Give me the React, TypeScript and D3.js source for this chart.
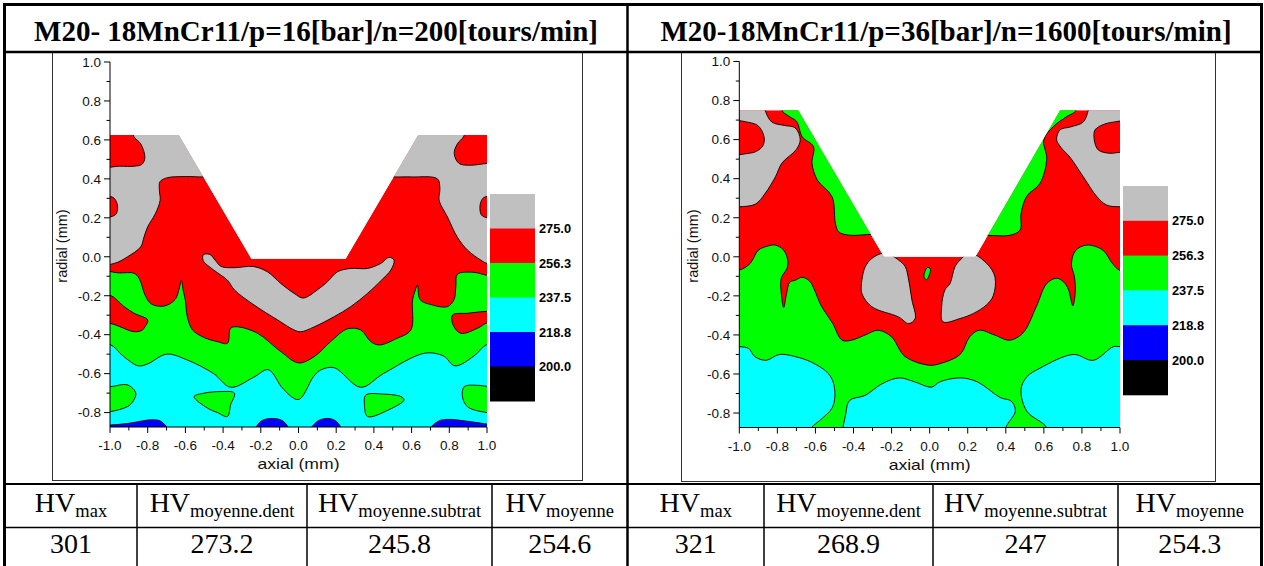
import React from "react";
import * as d3 from "d3";

type P = [number, number];

// ---------------- data ----------------
const contourLevels = [200.0, 218.8, 237.5, 256.3, 275.0];
const bandColors = ["#000000", "#0000ff", "#00ffff", "#00ff00", "#ff0000", "#c0c0c0"];
const panelTitles = [
  "M20- 18MnCr11/p=16[bar]/n=200[tours/min]",
  "M20-18MnCr11/p=36[bar]/n=1600[tours/min]",
];
const hvSubscripts = ["max", "moyenne.dent", "moyenne.subtrat", "moyenne"];
const hvValuesLeft = ["301", "273.2", "245.8", "254.6"];
const hvValuesRight = ["321", "268.9", "247", "254.3"];
const xMajorTicks = [-1.0, -0.8, -0.6, -0.4, -0.2, 0.0, 0.2, 0.4, 0.6, 0.8, 1.0];
const xMinorTicks = [-0.9, -0.7, -0.5, -0.3, -0.1, 0.1, 0.3, 0.5, 0.7, 0.9];
const yMajorTicks = [-0.8, -0.6, -0.4, -0.2, 0.0, 0.2, 0.4, 0.6, 0.8, 1.0];
const yMinorTicks = [-0.7, -0.5, -0.3, -0.1, 0.1, 0.3, 0.5, 0.7, 0.9];
const yMin = -0.874;

// hardness representative of each band (HV)
const HV_GRAY = 285, HV_RED = 266, HV_GREEN = 247, HV_CYAN = 228, HV_BLUE = 210;

// ---- left panel (p=16 bar, n=200) ----
const leftTooth: P[] = [[-1, 0.625], [-0.635, 0.625], [-0.25, -0.01], [0.25, -0.01], [0.635, 0.625], [1, 0.625], [1, yMin], [-1, yMin]];
const leftGrayTL: P[] = [[-1.1, 0.7], [-0.45, 0.7], [-0.45, 0.415], [-0.5, 0.41], [-0.6, 0.412], [-0.7, 0.405], [-0.735, 0.385], [-0.738, 0.34], [-0.734, 0.29], [-0.76, 0.22], [-0.8, 0.154], [-0.82, 0.1], [-0.837, 0.051], [-0.907, 0.0], [-0.978, -0.034], [-1.1, -0.036]];
const leftRedTL: P[] = [[-1.1, 0.7], [-0.88, 0.7], [-0.875, 0.62], [-0.837, 0.58], [-0.815, 0.51], [-0.83, 0.475], [-0.872, 0.465], [-0.95, 0.465], [-1.1, 0.465]];
const leftRedL2: P[] = [[-1.1, 0.31], [-0.985, 0.305], [-0.965, 0.28], [-0.96, 0.24], [-0.975, 0.213], [-1.1, 0.205]];
const leftGrayTR: P[] = [[1.1, 0.7], [0.45, 0.7], [0.45, 0.415], [0.512, 0.41], [0.6, 0.41], [0.737, 0.4], [0.75, 0.35], [0.746, 0.29], [0.79, 0.205], [0.843, 0.1], [0.897, 0.034], [0.967, -0.017], [1.0, -0.034], [1.1, -0.036]];
const leftRedTR: P[] = [[0.89, 0.7], [0.878, 0.62], [0.843, 0.58], [0.826, 0.53], [0.852, 0.479], [0.914, 0.47], [1.0, 0.479], [1.1, 0.48], [1.1, 0.7]];
const leftRedR2: P[] = [[1.1, 0.31], [0.985, 0.305], [0.967, 0.28], [0.963, 0.24], [0.975, 0.21], [1.1, 0.2]];
const leftGrayV: P[] = [[-0.505, 0.01], [-0.47, 0.012], [-0.44, -0.02], [-0.41, -0.05], [-0.34, -0.056], [-0.24, -0.05], [-0.165, -0.077], [-0.094, -0.137], [-0.023, -0.188], [0.025, -0.212], [0.1, -0.17], [0.154, -0.128], [0.207, -0.077], [0.277, -0.06], [0.366, -0.06], [0.437, -0.034], [0.48, -0.003], [0.507, -0.017], [0.49, -0.068], [0.44, -0.12], [0.366, -0.188], [0.277, -0.256], [0.19, -0.307], [0.083, -0.36], [0.012, -0.385], [-0.023, -0.376], [-0.11, -0.325], [-0.235, -0.248], [-0.34, -0.17], [-0.377, -0.12], [-0.45, -0.068], [-0.505, -0.02]];
const leftGreen: P[] = [[-1.1, -0.085], [-0.95, -0.083], [-0.872, -0.085], [-0.846, -0.11], [-0.83, -0.15], [-0.815, -0.195], [-0.78, -0.243], [-0.713, -0.253], [-0.655, -0.22], [-0.632, -0.16], [-0.622, -0.12], [-0.612, -0.17], [-0.6, -0.225], [-0.59, -0.307], [-0.562, -0.376], [-0.5, -0.415], [-0.43, -0.436], [-0.377, -0.444], [-0.36, -0.367], [-0.32, -0.36], [-0.217, -0.393], [-0.094, -0.487], [0.0, -0.545], [0.083, -0.513], [0.17, -0.436], [0.26, -0.37], [0.33, -0.376], [0.384, -0.436], [0.428, -0.453], [0.52, -0.42], [0.596, -0.376], [0.605, -0.222], [0.62, -0.17], [0.631, -0.145], [0.645, -0.22], [0.7, -0.245], [0.79, -0.256], [0.825, -0.22], [0.835, -0.15], [0.843, -0.09], [0.93, -0.08], [1.0, -0.095], [1.1, -0.1], [1.1, -1.0], [-1.1, -1.0]];
const leftRedTongueL: P[] = [[-1.1, -0.196], [-1.0, -0.197], [-0.925, -0.256], [-0.872, -0.29], [-0.8, -0.325], [-0.815, -0.36], [-0.828, -0.376], [-0.87, -0.385], [-1.0, -0.342], [-1.1, -0.34]];
const leftRedTongueR: P[] = [[1.1, -0.28], [1.0, -0.28], [0.897, -0.29], [0.817, -0.299], [0.82, -0.35], [0.861, -0.393], [0.95, -0.367], [1.0, -0.34], [1.1, -0.34]];
const leftCyan: P[] = [[-1.1, -0.45], [-1.0, -0.45], [-0.93, -0.51], [-0.85, -0.56], [-0.8, -0.55], [-0.7, -0.5], [-0.59, -0.53], [-0.45, -0.6], [-0.36, -0.67], [-0.24, -0.62], [-0.16, -0.58], [-0.08, -0.68], [0.0, -0.733], [0.08, -0.615], [0.12, -0.58], [0.19, -0.57], [0.33, -0.67], [0.45, -0.6], [0.67, -0.495], [0.77, -0.51], [0.83, -0.56], [0.93, -0.51], [1.0, -0.45], [1.1, -0.44], [1.1, -1.0], [-1.1, -1.0]];
const leftGreenIsl1: P[] = [[-1.1, -0.667], [-1.0, -0.667], [-0.907, -0.658], [-0.863, -0.7], [-0.88, -0.745], [-0.907, -0.769], [-1.0, -0.795], [-1.1, -0.795]];
const leftGreenIsl2: P[] = [[-0.554, -0.718], [-0.5, -0.7], [-0.412, -0.692], [-0.34, -0.7], [-0.36, -0.76], [-0.377, -0.82], [-0.43, -0.8], [-0.483, -0.777]];
const leftGreenIsl3: P[] = [[0.357, -0.71], [0.45, -0.705], [0.543, -0.718], [0.56, -0.735], [0.48, -0.785], [0.366, -0.82], [0.35, -0.76]];
const leftGreenIsl4: P[] = [[0.879, -0.667], [0.95, -0.66], [1.0, -0.665], [1.1, -0.665], [1.1, -0.8], [1.0, -0.8], [0.897, -0.77], [0.87, -0.72]];
const leftBlue1: P[] = [[-1.1, -0.866], [-1.0, -0.864], [-0.9, -0.855], [-0.78, -0.837], [-0.73, -0.845], [-0.69, -0.9], [-1.1, -0.92]];
const leftBlue2: P[] = [[-0.23, -0.9], [-0.2, -0.845], [-0.14, -0.83], [-0.08, -0.845], [-0.05, -0.9]];
const leftBlue3: P[] = [[0.06, -0.9], [0.1, -0.845], [0.154, -0.83], [0.2, -0.845], [0.23, -0.9]];
const leftBlue4: P[] = [[0.69, -0.9], [0.74, -0.845], [0.79, -0.835], [0.9, -0.845], [0.985, -0.857], [1.1, -0.87], [1.1, -0.92]];

// ---- right panel (p=36 bar, n=1600) ----
const rightTooth: P[] = [[-1, 0.75], [-0.69, 0.75], [-0.24, 0.0], [0.24, 0.0], [0.685, 0.75], [1, 0.75], [1, yMin], [-1, yMin]];
const rightGrayTL: P[] = [[-1.1, 0.8], [-0.87, 0.8], [-0.864, 0.75], [-0.829, 0.69], [-0.76, 0.672], [-0.706, 0.66], [-0.68, 0.6], [-0.7, 0.55], [-0.776, 0.48], [-0.81, 0.41], [-0.864, 0.325], [-0.915, 0.27], [-1.0, 0.256], [-1.1, 0.255]];
const rightRedTL: P[] = [[-1.1, 0.692], [-0.95, 0.688], [-0.9, 0.67], [-0.87, 0.615], [-0.875, 0.57], [-0.91, 0.54], [-0.95, 0.53], [-1.1, 0.53]];
const rightGreenSlopeL: P[] = [[-0.776, 0.9], [-0.776, 0.75], [-0.74, 0.72], [-0.698, 0.692], [-0.67, 0.615], [-0.61, 0.564], [-0.618, 0.479], [-0.59, 0.393], [-0.513, 0.308], [-0.495, 0.171], [-0.478, 0.128], [-0.426, 0.111], [-0.3, 0.115], [-0.2, 0.115], [-0.2, 0.9]];
const rightGrayTR: P[] = [[0.84, 0.8], [0.833, 0.75], [0.807, 0.69], [0.74, 0.665], [0.685, 0.65], [0.667, 0.6], [0.69, 0.56], [0.737, 0.51], [0.807, 0.41], [0.877, 0.31], [0.93, 0.265], [1.0, 0.256], [1.1, 0.256], [1.1, 0.8]];
const rightRedTR: P[] = [[0.869, 0.65], [0.92, 0.68], [0.98, 0.692], [1.0, 0.695], [1.1, 0.7], [1.1, 0.535], [1.0, 0.535], [0.947, 0.53], [0.886, 0.547], [0.865, 0.598]];
const rightGreenSlopeR: P[] = [[0.2, 0.9], [0.2, 0.11], [0.3, 0.11], [0.42, 0.11], [0.475, 0.137], [0.48, 0.22], [0.51, 0.31], [0.58, 0.376], [0.615, 0.5], [0.6, 0.6], [0.65, 0.667], [0.72, 0.718], [0.77, 0.75], [0.775, 0.9]];
const rightGrayC1: P[] = [[-0.338, -0.051], [-0.303, -0.008], [-0.233, 0.02], [-0.163, -0.017], [-0.128, -0.051], [-0.11, -0.12], [-0.093, -0.222], [-0.076, -0.316], [-0.11, -0.342], [-0.163, -0.308], [-0.303, -0.256], [-0.356, -0.188], [-0.356, -0.12]];
const rightGrayC2: P[] = [[0.107, -0.137], [0.133, -0.051], [0.16, -0.017], [0.21, 0.02], [0.3, -0.034], [0.343, -0.103], [0.334, -0.2], [0.3, -0.245], [0.23, -0.29], [0.16, -0.316], [0.07, -0.333], [0.063, -0.256], [0.08, -0.17]];
const rightGreenSpeck: P[] = [[-0.03, -0.1], [-0.012, -0.055], [0.004, -0.062], [-0.016, -0.118]];
const rightGreen: P[] = [[-1.1, -0.068], [-1.0, -0.068], [-0.943, -0.034], [-0.9, 0.034], [-0.85, 0.055], [-0.811, 0.06], [-0.767, 0.034], [-0.745, -0.02], [-0.75, -0.06], [-0.78, -0.11], [-0.778, -0.2], [-0.767, -0.26], [-0.752, -0.19], [-0.735, -0.13], [-0.706, -0.12], [-0.67, -0.105], [-0.63, -0.125], [-0.605, -0.17], [-0.57, -0.25], [-0.51, -0.34], [-0.46, -0.427], [-0.41, -0.427], [-0.338, -0.4], [-0.27, -0.376], [-0.2, -0.41], [-0.13, -0.51], [-0.005, -0.555], [0.054, -0.547], [0.16, -0.5], [0.21, -0.41], [0.26, -0.376], [0.34, -0.4], [0.42, -0.427], [0.49, -0.39], [0.56, -0.256], [0.615, -0.137], [0.667, -0.11], [0.705, -0.13], [0.73, -0.17], [0.752, -0.25], [0.765, -0.18], [0.76, -0.1], [0.745, -0.04], [0.765, 0.03], [0.825, 0.06], [0.91, 0.034], [0.96, -0.034], [1.0, -0.07], [1.1, -0.07], [1.1, -1.0], [-1.1, -1.0]];
const rightCyanL: P[] = [[-1.1, -0.46], [-1.0, -0.46], [-0.95, -0.47], [-0.92, -0.51], [-0.86, -0.53], [-0.79, -0.5], [-0.71, -0.51], [-0.62, -0.54], [-0.53, -0.6], [-0.5, -0.67], [-0.51, -0.77], [-0.58, -0.84], [-0.62, -0.875], [-0.64, -0.95], [-1.1, -0.95]];
const rightCyanC: P[] = [[-0.44, -0.95], [-0.44, -0.8], [-0.42, -0.735], [-0.34, -0.71], [-0.25, -0.65], [-0.16, -0.62], [-0.08, -0.64], [0.01, -0.667], [0.054, -0.64], [0.16, -0.62], [0.25, -0.64], [0.37, -0.72], [0.43, -0.74], [0.45, -0.79], [0.4, -0.875], [0.39, -0.95]];
const rightCyanR: P[] = [[0.62, -0.95], [0.615, -0.875], [0.51, -0.79], [0.48, -0.68], [0.51, -0.615], [0.58, -0.57], [0.755, -0.5], [0.86, -0.53], [0.965, -0.46], [1.0, -0.46], [1.1, -0.46], [1.1, -0.95]];

type Layer = { v: number; pts: P[] };
const leftLayers: Layer[] = [
  { v: HV_GRAY, pts: leftGrayTL }, { v: HV_GRAY, pts: leftGrayTR }, { v: HV_GRAY, pts: leftGrayV },
  { v: HV_RED, pts: leftRedTL }, { v: HV_RED, pts: leftRedL2 }, { v: HV_RED, pts: leftRedTR }, { v: HV_RED, pts: leftRedR2 },
  { v: HV_GREEN, pts: leftGreen },
  { v: HV_RED, pts: leftRedTongueL }, { v: HV_RED, pts: leftRedTongueR },
  { v: HV_CYAN, pts: leftCyan },
  { v: HV_GREEN, pts: leftGreenIsl1 }, { v: HV_GREEN, pts: leftGreenIsl2 }, { v: HV_GREEN, pts: leftGreenIsl3 }, { v: HV_GREEN, pts: leftGreenIsl4 },
  { v: HV_BLUE, pts: leftBlue1 }, { v: HV_BLUE, pts: leftBlue2 }, { v: HV_BLUE, pts: leftBlue3 }, { v: HV_BLUE, pts: leftBlue4 },
];
const rightLayers: Layer[] = [
  { v: HV_GRAY, pts: rightGrayTL }, { v: HV_GRAY, pts: rightGrayTR }, { v: HV_GRAY, pts: rightGrayC1 }, { v: HV_GRAY, pts: rightGrayC2 },
  { v: HV_RED, pts: rightRedTL }, { v: HV_RED, pts: rightRedTR },
  { v: HV_GREEN, pts: rightGreenSlopeL }, { v: HV_GREEN, pts: rightGreenSlopeR }, { v: HV_GREEN, pts: rightGreenSpeck },
  { v: HV_GREEN, pts: rightGreen },
  { v: HV_CYAN, pts: rightCyanL }, { v: HV_CYAN, pts: rightCyanC }, { v: HV_CYAN, pts: rightCyanR },
];

// ---------------- drawing ----------------
const colorOf = d3.scaleThreshold<number, string>().domain(contourLevels).range(bandColors);
const SANS = "'Liberation Sans', Arial, sans-serif";
const SERIF = "'Liberation Serif', 'Times New Roman', serif";
const fmt = (v: number) => (Math.abs(v) < 1e-9 ? "0.0" : v.toFixed(1));

type Cfg = {
  id: string; x0: number; x1: number; yb: number; yt: number;
  frame: [number, number, number, number];
  cbX: number; cbTop: number; cbSeg: number; ylabX: number;
};

function Panel({ cfg, tooth, layers }: { cfg: Cfg; tooth: P[]; layers: Layer[] }) {
  const x = d3.scaleLinear().domain([-1, 1]).range([cfg.x0, cfg.x1]);
  const y = d3.scaleLinear().domain([yMin, 1]).range([cfg.yb, cfg.yt]);
  const smooth = d3.line<P>().x((d) => x(d[0])).y((d) => y(d[1])).curve(d3.curveCatmullRomClosed.alpha(0.5));
  const lin = d3.line<P>().x((d) => x(d[0])).y((d) => y(d[1])).curve(d3.curveLinearClosed);
  const [fx, fy, fw, fh] = cfg.frame;
  const cbColors = bandColors.slice().reverse();
  const cbLabels = contourLevels.slice().reverse();
  return (
    <g>
      <rect x={fx} y={fy} width={fw} height={fh} fill="#fff" stroke="#333" strokeWidth={1} />
      <defs>
        <clipPath id={cfg.id}>
          <path d={lin(tooth) || ""} />
        </clipPath>
      </defs>
      <g clipPath={`url(#${cfg.id})`}>
        <path d={lin(tooth) || ""} fill={colorOf(HV_RED)} />
        {layers.map((l, i) => (
          <path key={i} d={smooth(l.pts) || ""} fill={colorOf(l.v)} stroke="#000" strokeWidth={0.9} strokeLinejoin="round" />
        ))}
      </g>
      {/* axes */}
      <g fontFamily={SANS} fontSize={13.5} fill="#111">
        <line x1={x(-1)} x2={x(-1)} y1={y(1)} y2={y(yMin)} stroke="#000" strokeWidth={1} />
        <line x1={x(-1)} x2={x(1)} y1={y(yMin)} y2={y(yMin)} stroke="#000" strokeWidth={1} />
        {yMajorTicks.map((t) => (
          <g key={"ym" + t}>
            <line x1={x(-1) - 6} x2={x(-1)} y1={y(t)} y2={y(t)} stroke="#000" />
            <text x={x(-1) - 9} y={y(t) + 4.8} textAnchor="end">{fmt(t)}</text>
          </g>
        ))}
        {yMinorTicks.map((t) => (
          <line key={"yn" + t} x1={x(-1) - 3.5} x2={x(-1)} y1={y(t)} y2={y(t)} stroke="#000" />
        ))}
        {xMajorTicks.map((t) => (
          <g key={"xm" + t}>
            <line x1={x(t)} x2={x(t)} y1={y(yMin)} y2={y(yMin) + 6} stroke="#000" />
            <text x={x(t)} y={y(yMin) + 23} textAnchor="middle">{fmt(t)}</text>
          </g>
        ))}
        {xMinorTicks.map((t) => (
          <line key={"xn" + t} x1={x(t)} x2={x(t)} y1={y(yMin)} y2={y(yMin) + 3.5} stroke="#000" />
        ))}
        <text x={(x(-1) + x(1)) / 2} y={y(yMin) + 42} textAnchor="middle" fontSize={15} textLength={82} lengthAdjust="spacingAndGlyphs">axial (mm)</text>
        <text transform={`translate(${cfg.ylabX},246) rotate(-90)`} textAnchor="middle" fontSize={14.5}>radial (mm)</text>
      </g>
      {/* colour scale */}
      <g>
        {cbColors.map((c, i) => (
          <rect key={c} x={cfg.cbX} y={cfg.cbTop + i * cfg.cbSeg} width={45} height={cfg.cbSeg + 0.5} fill={c} />
        ))}
        {cbLabels.map((v, i) => (
          <text key={v} x={cfg.cbX + 49} y={cfg.cbTop + (i + 1) * cfg.cbSeg + 4.5} fontFamily={SANS} fontWeight="bold" fontSize={12.8}>
            {v.toFixed(1)}
          </text>
        ))}
      </g>
    </g>
  );
}

const leftCfg: Cfg = { id: "clipL", x0: 110, x1: 487, yb: 427, yt: 62, frame: [52.5, 52.5, 530, 428], cbX: 490, cbTop: 194, cbSeg: 34.5, ylabX: 67 };
const rightCfg: Cfg = { id: "clipR", x0: 739.3, x1: 1120, yb: 427.5, yt: 61.5, frame: [681.5, 52.5, 534, 429], cbX: 1123, cbTop: 186, cbSeg: 34.8, ylabX: 698 };

const leftCols = [5, 137, 307, 492, 627.5];
const rightCols = [627.5, 764, 933, 1118, 1261.5];

function HvRow({ cols, values }: { cols: number[]; values: string[] }) {
  return (
    <g fontFamily={SERIF} fill="#000">
      {hvSubscripts.map((s, i) => {
        const cx = (cols[i] + cols[i + 1]) / 2;
        return (
          <g key={s}>
            <text x={cx} y={512} textAnchor="middle" fontSize={28}>
              HV<tspan fontSize={18.5} dy={5}>{s}</tspan>
            </text>
            <text x={cx} y={553} textAnchor="middle" fontSize={28}>{values[i]}</text>
          </g>
        );
      })}
      {cols.slice(1, -1).map((c) => (
        <line key={c} x1={c} x2={c} y1={484} y2={566} stroke="#000" strokeWidth={1.5} />
      ))}
    </g>
  );
}

export default function App() {
  return (
    <svg width={1264} height={566} style={{ position: "absolute", left: 0, top: 0, display: "block" }}>
      <rect x={0} y={0} width={1264} height={566} fill="#fff" />
      <Panel cfg={leftCfg} tooth={leftTooth} layers={leftLayers} />
      <Panel cfg={rightCfg} tooth={rightTooth} layers={rightLayers} />
      {/* table */}
      <text x={316} y={41} textAnchor="middle" fontFamily={SERIF} fontWeight="bold" fontSize={29}>{panelTitles[0]}</text>
      <text x={946} y={41} textAnchor="middle" fontFamily={SERIF} fontWeight="bold" fontSize={29}>{panelTitles[1]}</text>
      <HvRow cols={leftCols} values={hvValuesLeft} />
      <HvRow cols={rightCols} values={hvValuesRight} />
      <line x1={4} x2={1262} y1={52} y2={52} stroke="#000" strokeWidth={2.5} />
      <line x1={4} x2={1262} y1={484} y2={484} stroke="#000" strokeWidth={2} />
      <line x1={4} x2={1262} y1={527.5} y2={527.5} stroke="#000" strokeWidth={1.5} />
      <line x1={627.5} x2={627.5} y1={4} y2={566} stroke="#000" strokeWidth={2.5} />
      <rect x={4.5} y={4.5} width={1257} height={600} fill="none" stroke="#000" strokeWidth={3} />
    </svg>
  );
}
